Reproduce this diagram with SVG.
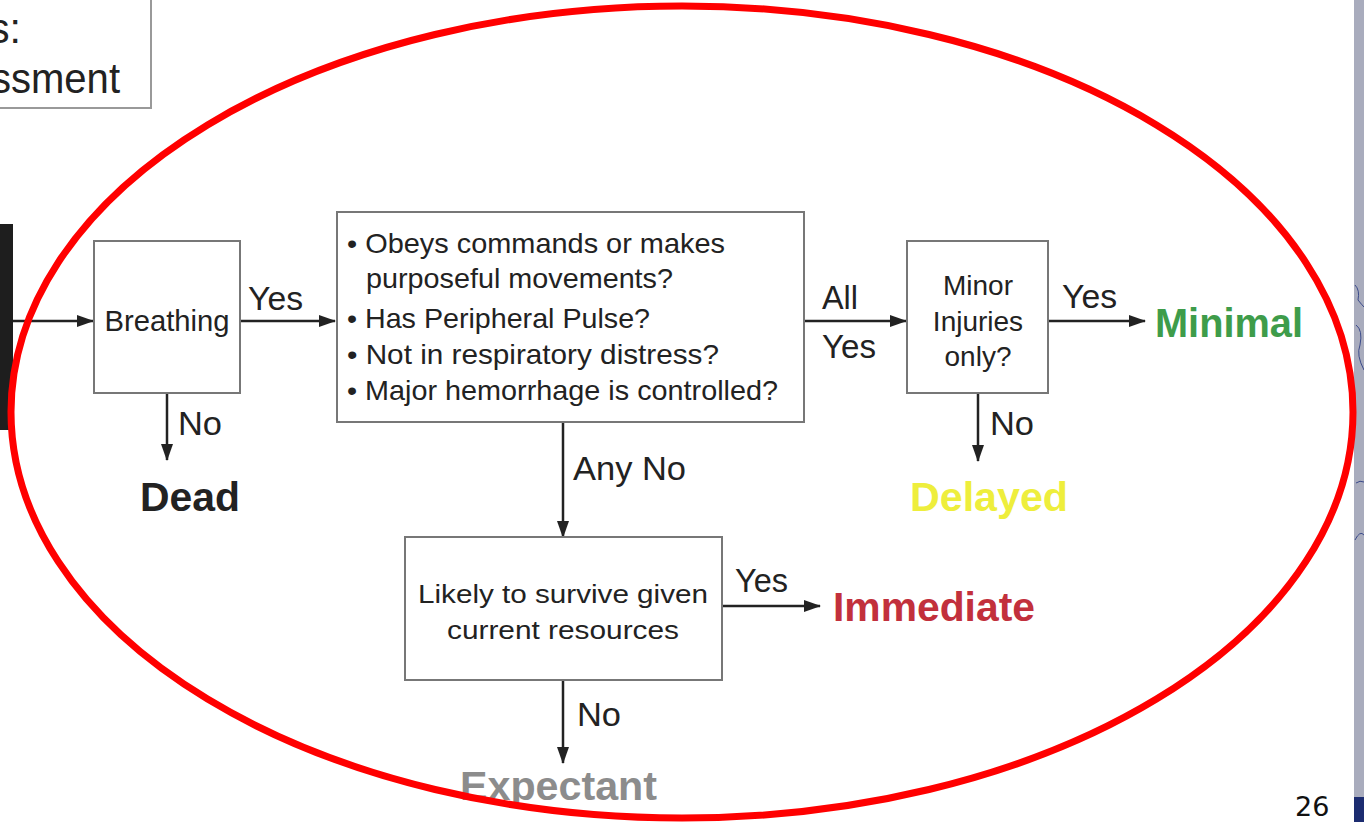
<svg xmlns="http://www.w3.org/2000/svg" width="1364" height="822" viewBox="0 0 1364 822">
<defs>
<marker id="ah" markerWidth="17" markerHeight="12" refX="16" refY="6" orient="auto" markerUnits="userSpaceOnUse">
<path d="M0,0 L17,6 L0,12 Z" fill="#222"/>
</marker>
<style>
.box{fill:#fff;stroke:#777;stroke-width:2}
.t{font-family:"Liberation Sans",Arial,sans-serif;font-size:28px;fill:#222}
.l{font-family:"Liberation Sans",Arial,sans-serif;font-size:34px;fill:#222}
.c{text-anchor:middle}
.o{font-family:"Liberation Sans",Arial,sans-serif;font-weight:bold;font-size:40px}
.ln{stroke:#222;stroke-width:2.5;fill:none;marker-end:url(#ah)}
</style>
</defs>
<rect width="1364" height="822" fill="#fff"/>
<!-- right strip -->
<rect x="1354" y="0" width="10" height="797" fill="#a9acbd"/>
<rect x="1354" y="797" width="10" height="25" fill="#1c2c70"/>
<g stroke="#3a4a8a" stroke-width="1" fill="none">
<path d="M1355,285 Q1360,290 1358,300 Q1362,305 1364,307"/>
<path d="M1356,325 Q1363,330 1360,345 Q1356,355 1364,370"/>
<path d="M1356,483 Q1360,480 1364,482"/>
<path d="M1355,540 Q1360,530 1364,535"/>
</g>
<text x="1295" y="816" font-family="DejaVu Sans,sans-serif" font-size="27" fill="#111">26</text>
<!-- top-left box -->
<g id="header">
<rect x="-10" y="-10" width="161" height="118" class="box" style="stroke:#999"/>
<text x="-11" y="43" font-family="Liberation Sans,Arial,sans-serif" font-size="42" fill="#222" textLength="32" lengthAdjust="spacingAndGlyphs">s:</text>
<text x="-9" y="93" font-family="Liberation Sans,Arial,sans-serif" font-size="42" fill="#222" textLength="129" lengthAdjust="spacingAndGlyphs">ssment</text>
</g>
<!-- left bar -->
<rect x="0" y="224" width="13" height="206" fill="#1e1e1e"/>
<g id="connectors">
<line x1="13" y1="321" x2="93" y2="321" class="ln"/>
<line x1="240" y1="321" x2="335" y2="321" class="ln"/>
<line x1="167" y1="393" x2="167" y2="460" class="ln"/>
<line x1="805" y1="321" x2="906" y2="321" class="ln"/>
<line x1="1049" y1="321" x2="1145" y2="321" class="ln"/>
<line x1="978" y1="393" x2="978" y2="461" class="ln"/>
<line x1="563" y1="422" x2="563" y2="537" class="ln"/>
<line x1="722" y1="606" x2="820" y2="606" class="ln"/>
<line x1="563" y1="681" x2="563" y2="763" class="ln"/>
<text x="248" y="310" class="l" textLength="55" lengthAdjust="spacingAndGlyphs">Yes</text>
<text x="178" y="435" class="l" textLength="44" lengthAdjust="spacingAndGlyphs">No</text>
<text x="822" y="309" class="l" textLength="36" lengthAdjust="spacingAndGlyphs">All</text>
<text x="822" y="358" class="l" textLength="54" lengthAdjust="spacingAndGlyphs">Yes</text>
<text x="1062" y="308" class="l" textLength="55" lengthAdjust="spacingAndGlyphs">Yes</text>
<text x="990" y="435" class="l" textLength="44" lengthAdjust="spacingAndGlyphs">No</text>
<text x="573" y="480" class="l" textLength="113" lengthAdjust="spacingAndGlyphs">Any No</text>
<text x="735" y="592" class="l" textLength="53" lengthAdjust="spacingAndGlyphs">Yes</text>
<text x="577" y="726" class="l" textLength="44" lengthAdjust="spacingAndGlyphs">No</text>
</g>
<g id="breathing">
<rect x="94" y="241" width="146" height="152" class="box"/>
<text x="167" y="331" class="t c" style="font-size:30px" textLength="125" lengthAdjust="spacingAndGlyphs">Breathing</text>
</g>
<g id="checks">
<rect x="337" y="212" width="467" height="210" class="box"/>
<text class="t" textLength="378" lengthAdjust="spacingAndGlyphs" x="347" y="253">• Obeys commands or makes</text>
<text class="t" x="366" y="288" textLength="307" lengthAdjust="spacingAndGlyphs">purposeful movements?</text>
<text class="t" x="347" y="328" textLength="303" lengthAdjust="spacingAndGlyphs">• Has Peripheral Pulse?</text>
<text class="t" x="347" y="364" textLength="372" lengthAdjust="spacingAndGlyphs">• Not in respiratory distress?</text>
<text class="t" x="347" y="400" textLength="431" lengthAdjust="spacingAndGlyphs">• Major hemorrhage is controlled?</text>
</g>
<g id="minor">
<rect x="907" y="241" width="141" height="152" class="box"/>
<text x="978" y="295" class="t c">Minor</text>
<text x="978" y="331" class="t c">Injuries</text>
<text x="978" y="366" class="t c">only?</text>
</g>
<g id="likely">
<rect x="405" y="537" width="317" height="143" class="box"/>
<text x="563" y="603" class="t c" style="font-size:26px" textLength="290" lengthAdjust="spacingAndGlyphs">Likely to survive given</text>
<text x="563" y="639" class="t c" style="font-size:26px" textLength="232" lengthAdjust="spacingAndGlyphs">current resources</text>
</g>
<g id="dead"><text x="140" y="511" class="o" fill="#222" textLength="100" lengthAdjust="spacingAndGlyphs">Dead</text></g>
<g id="delayed"><text x="910" y="511" class="o" fill="#eeee3c" textLength="158" lengthAdjust="spacingAndGlyphs">Delayed</text></g>
<g id="minimal"><text x="1155" y="337" class="o" fill="#3e9c4a" textLength="148" lengthAdjust="spacingAndGlyphs">Minimal</text></g>
<g id="immediate"><text x="833" y="621" class="o" fill="#c2303c" textLength="202" lengthAdjust="spacingAndGlyphs">Immediate</text></g>
<g id="expectant"><text x="460" y="800" class="o" fill="#8c8c8c" textLength="197" lengthAdjust="spacingAndGlyphs">Expectant</text></g>
<ellipse cx="682" cy="412" rx="671" ry="406" fill="none" stroke="#ff0000" stroke-width="7"/>
</svg>
